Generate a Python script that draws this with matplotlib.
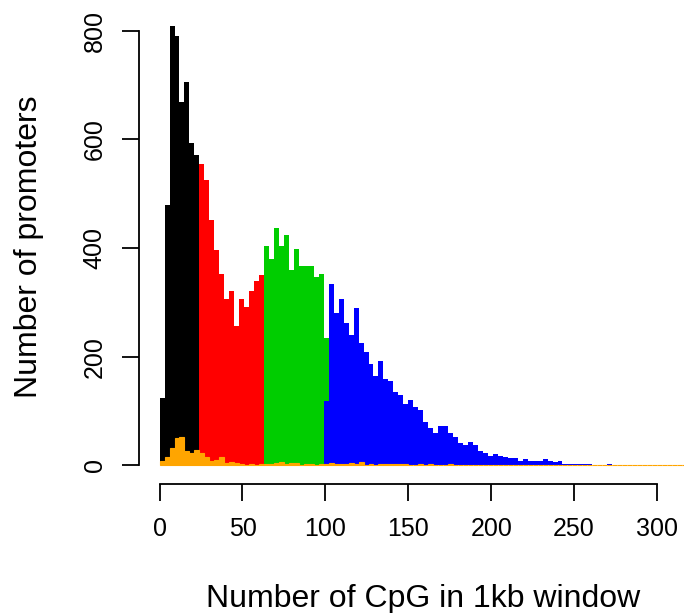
import matplotlib
matplotlib.use("Agg")
import matplotlib.pyplot as plt
import numpy as np

plt.rcParams['font.family'] = ['Liberation Sans', 'DejaVu Sans']

bin_width = 3
# counts per bin; each series lists (first bin index, counts)
black_start = 0
black_counts = [124, 479, 809, 791, 669, 706, 593, 571]
red_start = 8
red_counts = [555, 525, 451, 397, 353, 307, 320, 257, 307, 292, 320, 340, 351]
green_start = 21
green_counts = [403, 379, 436, 403, 423, 360, 399, 366, 366, 366, 347, 353, 235]
blue_start = 33
blue_counts = [118, 333, 281, 307, 262, 240, 290, 225, 209, 187,
               165, 192, 159, 155, 135, 129, 113, 120, 107, 102,
               79, 68, 59, 72, 72, 59, 52, 41, 37, 42,
               37, 26, 22, 18, 20, 18, 15, 13, 13, 7,
               11, 7, 7, 7, 11, 7, 6, 7, 2, 2,
               2, 2, 2, 2, 0, 0, 0, 2]
orange_start = 0
orange_counts = [8, 15, 32, 50, 52, 26, 23, 28, 23, 15,
                 8, 10, 15, 4, 6, 4, 2, 1, 2, 1,
                 2, 2, 2, 4, 6, 2, 4, 4, 1, 2,
                 2, 1, 2, 2, 4, 2, 2, 2, 4, 2,
                 6, 1, 3, 1, 3, 3, 3, 3, 3, 3,
                 1, 1, 3, 1, 3, 1, 1, 1, 3, 1,
                 1, 1, 1, 1, 1, 1, 1, 1, 1, 1,
                 1, 1, 1, 0, 1, 0, 1, 0, 0, 1,
                 0, 0, 0, 0, 0, 0, 0, 0, 0, 0,
                 0, 0, 0, 0, 0, 0, 0, 0, 0, 0,
                 0, 0, 0, 0, 0, 0]

x_ticks = [0, 50, 100, 150, 200, 250, 300]
y_ticks = [0, 200, 400, 600, 800]

W, H = 684, 613
fig = plt.figure(figsize=(W / 100, H / 100), dpi=100)

# axes geometry in pixels
ax_left_px, ax_bottom_px = 138.7, 484.0
x0_px, px_per_x = 159.6, 1.658
y0_px, px_per_y = 465.3, 0.5433
ax = fig.add_axes([ax_left_px / W, (H - ax_bottom_px) / H,
                   (W - ax_left_px) / W, ax_bottom_px / H])
ax.set_xlim((ax_left_px - x0_px) / px_per_x, (W - x0_px) / px_per_x)
ax.set_ylim(-(ax_bottom_px - y0_px) / px_per_y, y0_px / px_per_y)


def draw(start, counts, color, lw=0.0):
    counts = np.asarray(counts, dtype=float)
    left = (start + np.arange(len(counts))) * bin_width
    ax.bar(left, counts, width=bin_width, align='edge', color=color,
           edgecolor=color, linewidth=lw)


draw(black_start, black_counts, 'black')
draw(red_start, red_counts, '#FF0000')
draw(green_start, green_counts, '#00CD00')
draw(blue_start, blue_counts, '#0000FF')
draw(orange_start, orange_counts, '#FFA500', lw=0.8)

for s in ['top', 'right']:
    ax.spines[s].set_visible(False)
ax.spines['left'].set_bounds(0, 800)
ax.spines['bottom'].set_bounds(0, 300)
for s in ['left', 'bottom']:
    ax.spines[s].set_linewidth(1.3)

ax.set_xticks(x_ticks)
ax.set_yticks(y_ticks)
ax.set_xticklabels([str(t) for t in x_ticks])
ax.set_yticklabels([str(t) for t in y_ticks], rotation=90, va='center')
ax.tick_params(axis='both', direction='out', length=12, width=1.3,
               labelsize=18)
ax.tick_params(axis='x', pad=12)
ax.tick_params(axis='y', pad=11)

fig.text(423 / W, 1 - 607.5 / H, 'Number of CpG in 1kb window', ha='center',
         va='baseline', fontsize=23)
fig.text(37 / W, 1 - 247 / H, 'Number of promoters', ha='center',
         va='baseline', rotation=90, rotation_mode='anchor', fontsize=23)

fig.savefig('out.png', dpi=100)
